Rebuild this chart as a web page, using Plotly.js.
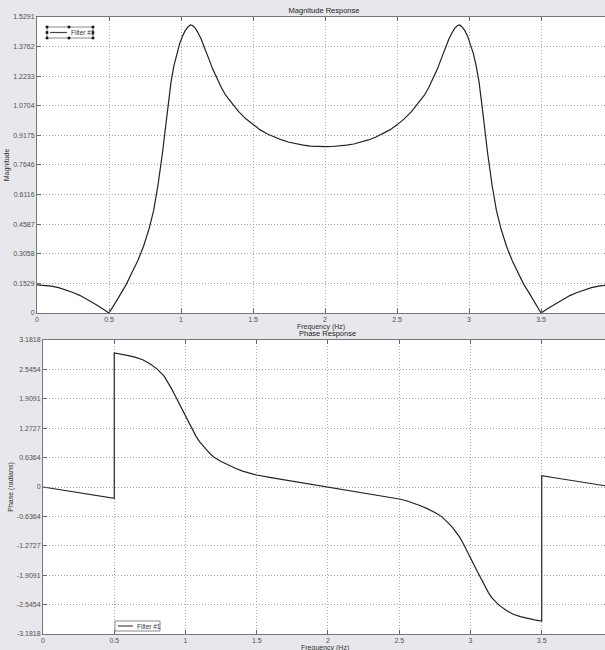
<!DOCTYPE html>
<html><head><meta charset="utf-8">
<script src="https://cdn.plot.ly/plotly-3.0.1.min.js"></script>
<style>html,body{margin:0;padding:0;background:#e8e8ec}#chart{width:605px;height:650px}</style>
</head><body><div id="chart"></div><script>
// Magnitude response
const magFreq = [0,0.05,0.1,0.15,0.2,0.25,0.3,0.35,0.4,0.45,0.5,
  0.55,0.58,0.62,0.66,0.7,0.74,0.78,0.81,0.84,0.87,0.89,0.91,0.93,0.95,0.97,0.99,1.01,1.03,1.05,1.065,1.08,1.1,1.12,1.14,1.16,1.18,1.2,1.22,1.25,1.28,1.31,1.35,1.4,1.45,1.5,1.55,1.6,1.65,1.7,1.75,1.8,1.85,1.9,1.95,2.0,
  2.05,2.1,2.15,2.2,2.25,2.3,2.35,2.4,2.45,2.5,2.55,2.6,2.65,2.69,2.72,2.75,2.78,2.8,2.82,2.84,2.86,2.88,2.9,
  2.92,2.935,2.95,2.97,2.99,3.01,3.03,3.05,3.07,3.09,3.11,3.13,3.16,3.19,3.22,3.26,3.3,3.34,3.38,3.42,3.45,3.5,
  3.55,3.6,3.65,3.7,3.75,3.8,3.85,3.9,3.944];
const magVal = [0.145,0.143,0.139,0.131,0.12,0.106,0.09,0.07,0.048,0.025,0,
  0.06,0.10,0.148,0.21,0.27,0.345,0.44,0.53,0.66,0.82,0.94,1.07,1.19,1.275,1.34,1.39,1.43,1.46,1.479,1.488,1.485,1.47,1.445,1.415,1.375,1.34,1.30,1.26,1.21,1.165,1.125,1.085,1.04,1.003,0.972,0.946,0.925,0.908,0.894,0.882,0.873,0.867,0.862,0.86,0.859,
  0.86,0.862,0.867,0.873,0.882,0.894,0.908,0.925,0.946,0.972,1.003,1.04,1.085,1.125,1.165,1.21,1.26,1.30,1.34,1.375,1.415,1.445,1.47,
  1.485,1.488,1.479,1.46,1.43,1.39,1.34,1.275,1.19,1.07,0.94,0.82,0.66,0.53,0.44,0.345,0.27,0.21,0.148,0.10,0.06,0,
  0.025,0.048,0.07,0.09,0.106,0.12,0.131,0.139,0.143];
// Phase response
const phaseFreq = [0,0.1,0.2,0.3,0.4,0.5,0.5,0.55,0.6,0.65,0.7,0.75,0.8,0.85,0.875,0.9,0.925,0.95,0.975,1.0,1.025,1.05,1.075,1.1,1.125,1.15,1.175,1.2,1.25,1.3,1.35,1.4,1.45,1.5,1.6,1.7,1.8,1.9,2.0,
  2.1,2.2,2.3,2.4,2.5,2.55,2.6,2.65,2.7,2.75,2.8,2.825,2.85,2.875,2.9,2.925,2.95,2.975,3.0,3.025,3.05,3.075,3.1,3.125,3.15,3.2,3.25,3.3,3.35,3.4,3.45,3.5,3.5,3.6,3.7,3.8,3.9,3.944];
const phaseVal = [0,-0.048,-0.097,-0.146,-0.195,-0.244,2.902,2.876,2.844,2.805,2.755,2.67,2.557,2.399,2.28,2.14,1.99,1.839,1.69,1.551,1.39,1.228,1.09,0.977,0.88,0.797,0.715,0.646,0.55,0.474,0.405,0.345,0.298,0.259,0.201,0.151,0.101,0.05,0,
  -0.05,-0.101,-0.151,-0.201,-0.259,-0.298,-0.345,-0.405,-0.474,-0.55,-0.646,-0.715,-0.797,-0.88,-0.977,-1.09,-1.228,-1.39,-1.551,-1.69,-1.839,-1.99,-2.14,-2.28,-2.399,-2.557,-2.67,-2.755,-2.805,-2.844,-2.876,-2.902,0.244,0.195,0.146,0.097,0.048,0.027];
const freqTicks = [0,0.5,1,1.5,2,2.5,3,3.5];
const freqTickText = ['0','0.5','1','1.5','2','2.5','3','3.5'];
const magTicks = [0,0.1529,0.3058,0.4587,0.6116,0.7646,0.9175,1.0704,1.2233,1.3762,1.5291];
const magTickText = ['0','0.1529','0.3058','0.4587','0.6116','0.7646','0.9175','1.0704','1.2233','1.3762','1.5291'];
const phaseTicks = [-3.1818,-2.5454,-1.9091,-1.2727,-0.6364,0,0.6364,1.2727,1.9091,2.5454,3.1818];
const phaseTickText = ['-3.1818','-2.5454','-1.9091','-1.2727','-0.6364','0','0.6364','1.2727','1.9091','2.5454','3.1818'];
const seriesName = 'Filter #1';

const W = 605, H = 650;
const px = x => x / W, py = y => 1 - y / H;
const FONT = 'Liberation Sans, Arial, sans-serif';
const tickFont = {family: FONT, size: 7, color: '#505050'};

function xax(dom, anchor, title) {
  return {domain: dom, anchor: anchor, range: [0, 3.944], tickvals: freqTicks, ticktext: freqTickText,
    ticks: 'inside', ticklen: 4, tickcolor: '#666', showline: true, linecolor: '#777', linewidth: 1, mirror: 'ticks',
    showgrid: true, gridcolor: '#a8a8a8', griddash: '1px,2px', gridwidth: 1, zeroline: false, tickfont: tickFont,
    automargin: false, fixedrange: true,
    title: {text: title, font: {family: FONT, size: 7, color: '#333'}, standoff: 0}};
}
function yax(dom, anchor, range, tv, tt, title) {
  return {domain: dom, anchor: anchor, range: range, tickvals: tv, ticktext: tt,
    ticks: 'inside', ticklen: 4, tickcolor: '#666', showline: true, linecolor: '#777', linewidth: 1,
    showgrid: true, gridcolor: '#a8a8a8', griddash: '1px,2px', gridwidth: 1, zeroline: false, tickfont: tickFont,
    automargin: false, fixedrange: true,
    title: {text: title, font: {family: FONT, size: 7, color: '#333'}, standoff: 2}};
}

const traces = [
  {x: magFreq, y: magVal, xaxis: 'x', yaxis: 'y', type: 'scatter', mode: 'lines', name: seriesName,
   line: {color: '#222', width: 1.2}, showlegend: false},
  {x: phaseFreq, y: phaseVal, xaxis: 'x2', yaxis: 'y2', type: 'scatter', mode: 'lines', name: seriesName,
   line: {color: '#222', width: 1.2}, showlegend: false}
];

const shapes = [];
const annotations = [];
function legendBox(x0, y0, x1, y1, lx0, lx1, tx, handles) {
  shapes.push({type: 'rect', xref: 'paper', yref: 'paper', x0: px(x0), x1: px(x1), y0: py(y0), y1: py(y1),
    fillcolor: '#fff', line: {color: '#888', width: 1}});
  const ym = (y0 + y1) / 2;
  shapes.push({type: 'line', xref: 'paper', yref: 'paper', x0: px(lx0), x1: px(lx1), y0: py(ym), y1: py(ym),
    line: {color: '#444', width: 1.2}});
  annotations.push({text: seriesName, xref: 'paper', yref: 'paper', x: px(tx), y: py(ym), xanchor: 'left', yanchor: 'middle',
    showarrow: false, font: {family: FONT, size: 6.5, color: '#334'}});
  if (handles) {
    const xm = (x0 + x1) / 2 - 1;
    const pts = [[x0,y0],[xm,y0],[x1,y0],[x0,ym],[x1,ym],[x0,y1],[xm,y1],[x1,y1]];
    pts.forEach(([hx, hy]) => shapes.push({type: 'rect', xref: 'paper', yref: 'paper',
      x0: px(hx - 1.3), x1: px(hx + 1.3), y0: py(hy - 1.3), y1: py(hy + 1.3), fillcolor: '#111', line: {width: 0}}));
  }
}
legendBox(47, 27, 93, 38, 50, 67, 68.5, true);
legendBox(115, 621, 160, 631, 118, 133, 135, false);

annotations.push({text: 'Phase Response', xref: 'paper', yref: 'paper', x: px(327), y: py(333), xanchor: 'center', yanchor: 'middle',
  showarrow: false, font: {family: FONT, size: 7.5, color: '#222'}});
annotations.push({text: 'Frequency (Hz)', xref: 'paper', yref: 'paper', x: px(325), y: py(647.5), xanchor: 'center', yanchor: 'middle',
  showarrow: false, font: {family: FONT, size: 7, color: '#333'}, borderpad: 0});

const layout = {
  width: W, height: H, margin: {l: 0, r: 0, t: 0, b: 0},
  paper_bgcolor: '#e8e8ec', plot_bgcolor: '#ffffff',
  title: {text: 'Magnitude Response', font: {family: FONT, size: 7.5, color: '#222'}, x: px(324), xanchor: 'center',
    y: py(10), yanchor: 'middle', xref: 'paper', yref: 'paper'},
  xaxis: xax([37 / W, 1], 'y', 'Frequency (Hz)'),
  yaxis: yax([py(313), py(17)], 'x', [0, 1.5291], magTicks, magTickText, 'Magnitude'),
  xaxis2: xax([43 / W, 1], 'y2', ''),
  yaxis2: yax([py(634), py(340)], 'x2', [-3.1818, 3.1818], phaseTicks, phaseTickText, 'Phase (radians)'),
  shapes: shapes, annotations: annotations, showlegend: false
};
Plotly.newPlot('chart', traces, layout, {displayModeBar: false, staticPlot: true});
</script></body></html>
